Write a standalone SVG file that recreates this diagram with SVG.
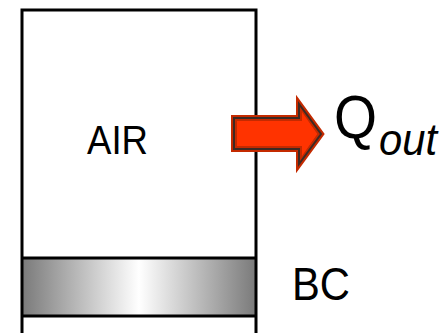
<svg xmlns="http://www.w3.org/2000/svg" width="440" height="333" viewBox="0 0 440 333">
<defs>
<linearGradient id="bandGrad" x1="0" y1="0" x2="1" y2="0">
<stop offset="0" stop-color="#7a7a7a"/>
<stop offset="0.5" stop-color="#ffffff"/>
<stop offset="1" stop-color="#7a7a7a"/>
</linearGradient>
<style>
.wall{stroke:#000;stroke-width:3;fill:none}
.lbl{font-family:"Liberation Sans",Arial,sans-serif;fill:#000}
</style>
</defs>
<rect width="440" height="333" fill="#fff"/>
<g id="band">
<rect x="22" y="258" width="234" height="58" fill="url(#bandGrad)"/>
<line class="wall" x1="22" y1="258" x2="256" y2="258"/>
<line class="wall" x1="22" y1="316" x2="256" y2="316"/>
</g>
<g id="container">
<polyline class="wall" points="22,333 22,10 256,10 256,333"/>
</g>
<g id="connectors">
<g id="arrow">
<polygon points="234,118 299,118 299,104 321,134 299,164 299,149 234,149" fill="#ff3300" stroke="#c42a00" stroke-width="6" stroke-linejoin="miter"/>
<polygon points="234,118 299,118 299,104 321,134 299,164 299,149 234,149" fill="none" stroke="#3c2a24" stroke-width="2"/>
<polygon points="237,121 302,121 302,112 317,134 302,156 302,146 237,146" fill="#ff3300"/>
</g>
</g>
<g id="air">
<text class="lbl" x="87" y="154" font-size="41" textLength="61" lengthAdjust="spacingAndGlyphs">AIR</text>
</g>
<g id="bc">
<text class="lbl" x="292" y="300" font-size="46" textLength="58" lengthAdjust="spacingAndGlyphs">BC</text>
</g>
<g id="qout">
<text class="lbl" x="334" y="138" font-size="62" textLength="43" lengthAdjust="spacingAndGlyphs">Q</text>
<text class="lbl" x="379" y="155" font-size="44" font-style="italic" textLength="58" lengthAdjust="spacingAndGlyphs">out</text>
</g>
</svg>
